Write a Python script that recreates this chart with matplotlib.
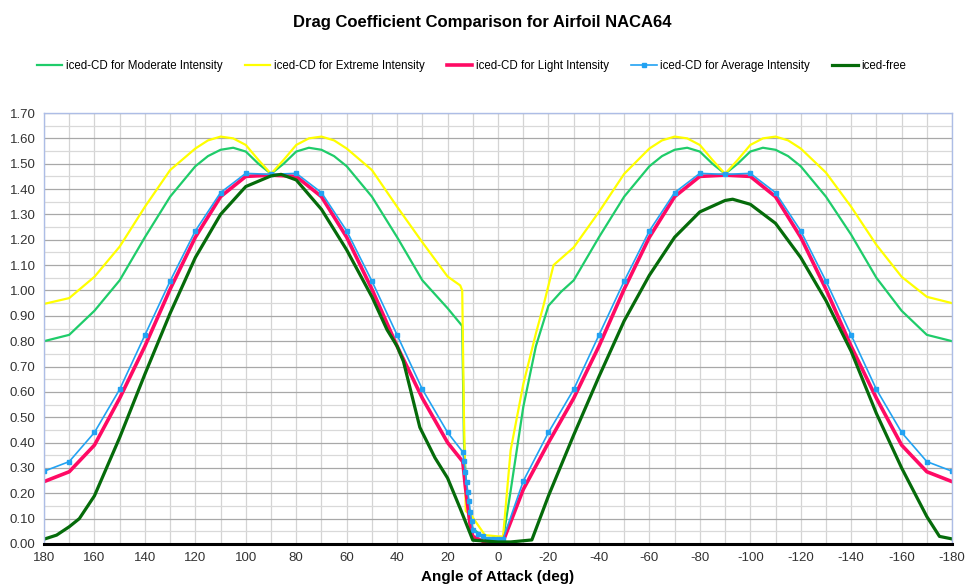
import numpy as np
import matplotlib
matplotlib.use("Agg")
import matplotlib.pyplot as plt
from matplotlib.ticker import MultipleLocator, FormatStrFormatter

plt.rcParams['font.family'] = ['Liberation Sans', 'DejaVu Sans']

# iced-CD for Moderate Intensity
aoa_moderate = [180, 170, 160, 150, 140, 130, 120, 115, 110, 105, 100, 95, 90, 85, 80, 75, 70, 65, 60, 50,
                40, 30, 20, 14.2, 13.5, 12.5, 11.5, 10, 6, 5, 0, -2, -5, -10, -15, -20, -25, -30, -40,
                -50, -60, -65, -70, -75, -80, -85, -90, -95, -100, -105, -110, -115, -120, -130, -140,
                -150, -160, -170, -180]
cd_moderate = [0.80, 0.825, 0.92, 1.04, 1.21, 1.37, 1.49, 1.53, 1.555, 1.563, 1.548, 1.50, 1.46, 1.50,
               1.548, 1.563, 1.555, 1.53, 1.49, 1.37, 1.21, 1.04, 0.93, 0.86, 0.40, 0.20, 0.10, 0.06,
               0.03, 0.02, 0.02, 0.02, 0.21, 0.54, 0.78, 0.94, 0.995, 1.04, 1.21, 1.37, 1.49, 1.53,
               1.555, 1.563, 1.548, 1.50, 1.46, 1.50, 1.548, 1.563, 1.555, 1.53, 1.49, 1.37, 1.22,
               1.05, 0.92, 0.825, 0.80]

# iced-CD for Extreme Intensity
aoa_extreme = [180, 170, 160, 150, 140, 130, 120, 115, 110, 105, 100, 95, 90, 85, 80, 75, 70, 65, 60, 50,
               40, 30, 20, 15, 14.2, 13.5, 12.8, 10.4, 5.2, 0, -2, -5, -10, -15, -18, -22, -30, -40,
               -50, -60, -65, -70, -75, -80, -85, -90, -95, -100, -105, -110, -115, -120, -130, -140,
               -150, -160, -170, -180]
cd_extreme = [0.947, 0.97, 1.054, 1.173, 1.33, 1.475, 1.56, 1.592, 1.607, 1.60, 1.574, 1.515, 1.46,
              1.515, 1.574, 1.60, 1.607, 1.592, 1.56, 1.475, 1.33, 1.19, 1.055, 1.02, 1.00, 0.50, 0.13,
              0.11, 0.035, 0.03, 0.03, 0.37, 0.63, 0.83, 0.94, 1.10, 1.17, 1.31, 1.46, 1.56, 1.592,
              1.607, 1.60, 1.574, 1.515, 1.46, 1.515, 1.574, 1.60, 1.607, 1.592, 1.56, 1.465, 1.33,
              1.18, 1.054, 0.975, 0.95]

# iced-CD for Light Intensity
aoa_light = [180, 170, 160, 150, 140, 130, 120, 110, 100, 90, 80, 70, 60, 50, 40, 30, 20, 14, 13.5, 13,
             12, 11, 10, 5.8, 0, -2, -10, -20, -30, -40, -50, -60, -70, -80, -90, -100, -110, -120,
             -130, -140, -150, -160, -170, -180]
cd_light = [0.246, 0.285, 0.39, 0.575, 0.78, 1.005, 1.21, 1.37, 1.45, 1.455, 1.45, 1.37, 1.21, 1.005,
            0.78, 0.575, 0.40, 0.325, 0.28, 0.23, 0.15, 0.07, 0.03, 0.01, 0.01, 0.01, 0.215, 0.40,
            0.575, 0.78, 1.005, 1.21, 1.37, 1.45, 1.455, 1.45, 1.37, 1.21, 1.005, 0.78, 0.575, 0.39,
            0.285, 0.246]

# iced-CD for Average Intensity
aoa_average = [180, 170, 160, 150, 140, 130, 120, 110, 100, 90, 80, 70, 60, 50, 40, 30, 20, 14, 13.5,
               13, 12.5, 12, 11.5, 11, 10.5, 10, 8, 6, 4, 2, 0, -2, -10, -20, -30, -40, -50, -60, -70,
               -80, -90, -100, -110, -120, -130, -140, -150, -160, -170, -180]
cd_average = [0.287, 0.325, 0.44, 0.61, 0.824, 1.037, 1.235, 1.386, 1.462, 1.458, 1.462, 1.386, 1.235,
              1.037, 0.824, 0.61, 0.44, 0.363, 0.327, 0.285, 0.246, 0.206, 0.17, 0.127, 0.092, 0.055,
              0.04, 0.03, 0.02, 0.02, 0.02, 0.02, 0.248, 0.44, 0.61, 0.824, 1.037, 1.235, 1.386, 1.462,
              1.458, 1.462, 1.386, 1.235, 1.037, 0.824, 0.61, 0.44, 0.325, 0.287]

# iced-free
aoa_free = [180, 175, 170, 166, 160, 150, 140, 130, 120, 110, 100, 90, 86, 80, 70, 60, 50, 44, 40, 37.5,
            35, 31, 25, 20, 15, 10, 0, -5, -13.4, -20, -30, -40, -50, -60, -70, -80, -90, -93, -100,
            -110, -120, -130, -140, -150, -160, -170, -175, -180]
cd_free = [0.019, 0.035, 0.068, 0.10, 0.19, 0.42, 0.67, 0.91, 1.13, 1.30, 1.41, 1.452, 1.458, 1.436,
           1.32, 1.16, 0.975, 0.845, 0.78, 0.72, 0.62, 0.46, 0.34, 0.26, 0.14, 0.015, 0.008, 0.008,
           0.016, 0.19, 0.43, 0.66, 0.88, 1.06, 1.21, 1.31, 1.355, 1.36, 1.34, 1.265, 1.13, 0.96,
           0.76, 0.515, 0.30, 0.108, 0.03, 0.02]

fig = plt.figure(figsize=(9.65, 5.85), dpi=100)
ax = fig.add_axes([0.0456, 0.0701, 0.941, 0.7367])

ax.plot(aoa_moderate, cd_moderate, color='#1fcc6a', lw=1.6, label='iced-CD for Moderate Intensity')
ax.plot(aoa_extreme, cd_extreme, color='#ffff00', lw=1.6, label='iced-CD for Extreme Intensity')
ax.plot(aoa_light, cd_light, color='#ff0a64', lw=2.6, label='iced-CD for Light Intensity')
ax.plot(aoa_average, cd_average, color='#22a2f2', lw=1.2, marker='s', ms=3.2,
        label='iced-CD for Average Intensity')
ax.plot(aoa_free, cd_free, color='#056b0a', lw=2.3, label='iced-free')

ax.set_xlim(180, -180)
ax.set_ylim(0, 1.70)
ax.xaxis.set_major_locator(MultipleLocator(20))
ax.xaxis.set_minor_locator(MultipleLocator(10))
ax.yaxis.set_major_locator(MultipleLocator(0.10))
ax.yaxis.set_minor_locator(MultipleLocator(0.05))
ax.yaxis.set_major_formatter(FormatStrFormatter('%.2f'))
ax.xaxis.set_major_formatter(FormatStrFormatter('%d'))

ax.grid(True, axis='y', which='major', color='#a8a8a8', lw=0.9)
ax.grid(True, axis='y', which='minor', color='#d9d9d9', lw=0.9)
ax.grid(True, axis='x', which='both', color='#d4d4d4', lw=0.9)
ax.set_axisbelow(True)

ax.tick_params(which='both', length=0, labelsize=9.5, colors='#333333', pad=6)
for side in ('left', 'top', 'right'):
    ax.spines[side].set_color('#adbde6')
    ax.spines[side].set_linewidth(1.0)
ax.spines['bottom'].set_color('black')
ax.spines['bottom'].set_linewidth(2.2)

ax.set_xlabel('Angle of Attack (deg)', fontsize=11, fontweight='bold', labelpad=4)
fig.suptitle('Drag Coefficient Comparison for Airfoil NACA64', fontsize=12, fontweight='bold',
             y=0.975)

fig.legend(loc='center', bbox_to_anchor=(0.4886, 0.887), ncol=5, frameon=False, fontsize=8.3,
           handlelength=2.2, handletextpad=0.3, columnspacing=1.95)

plt.savefig('out.png', dpi=100)
